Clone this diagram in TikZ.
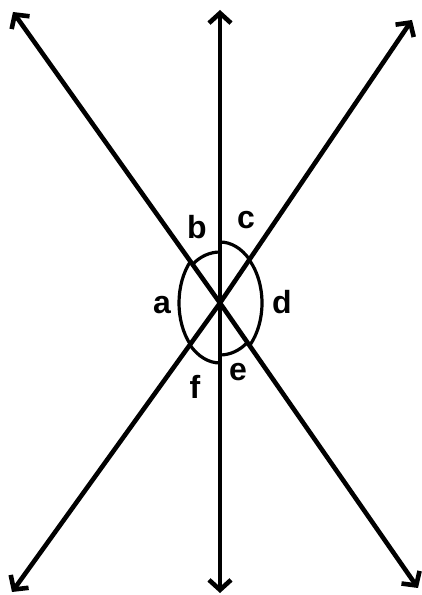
\documentclass[tikz,border=0pt]{standalone}
\usepackage{fontspec}
\setmainfont{Liberation Sans}
\usetikzlibrary{arrows.meta}
\begin{document}
\begin{tikzpicture}[x=1pt,y=1pt,
  mainline/.style={line width=4.6pt, {Straight Barb[length=10pt,width=22pt]}-{Straight Barb[length=10pt,width=22pt]}, line join=round},
  anglearc/.style={line width=3.2pt, line cap=round},
  lbl/.style={font=\bfseries\fontsize{32}{34}\selectfont, inner sep=0pt}]
\useasboundingbox (0,0) rectangle (421,595);
\coordinate (O) at (220,292);
\coordinate (VT) at (220,585);
\coordinate (VB) at (220,2);
\coordinate (TL) at (13,583);
\coordinate (BR) at (418,7);
\coordinate (TR) at (412,575);
\coordinate (BL) at (12,3);
\draw[mainline] (VT) -- (VB);
\draw[mainline] (TL) -- (O) -- (BR);
\draw[mainline] (TR) -- (O) -- (BL);
% angle arcs
\draw[anglearc] ([shift={(45.4:42 and 61)}]O) arc[start angle=45.4, end angle=90, x radius=42, y radius=61];
\draw[anglearc] ([shift={(90:42 and 51)}]O) arc[start angle=90, end angle=130.8, x radius=42, y radius=51];
\draw[anglearc] ([shift={(136.1:41 and 60)}]O) arc[start angle=136.1, end angle=223.5, x radius=41, y radius=60];
\draw[anglearc] ([shift={(224.2:42 and 60)}]O) arc[start angle=224.2, end angle=270, x radius=42, y radius=60];
\draw[anglearc] ([shift={(270:42 and 52)}]O) arc[start angle=270, end angle=310.7, x radius=42, y radius=52];
\draw[anglearc] ([shift={(-45.2:42 and 60)}]O) arc[start angle=-45.2, end angle=45.8, x radius=42, y radius=60];
% labels
\node[lbl] (lb) at (197,368) {b};
\node[lbl] (lc) at (246,375) {c};
\node[lbl] (la) at (162,290) {a};
\node[lbl] (ld) at (282,293) {d};
\node[lbl] (le) at (238,223) {e};
\node[lbl] (lf) at (195,208) {f};
\end{tikzpicture}
\end{document}
